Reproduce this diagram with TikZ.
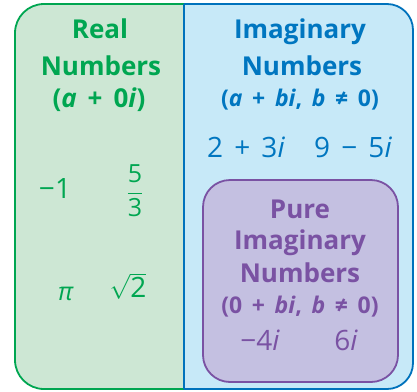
\documentclass[tikz,border=0pt]{standalone}
\usepackage{fontspec}
\setmainfont{Open Sans}
\definecolor{greenline}{RGB}{0,166,81}
\definecolor{greenfill}{RGB}{205,231,212}
\definecolor{blueline}{RGB}{0,114,188}
\definecolor{bluefill}{RGB}{199,233,248}
\definecolor{bluetext}{RGB}{0,118,192}
\definecolor{purplefill}{RGB}{196,192,225}
\definecolor{purpleline}{RGB}{122,82,163}
\newcommand\opsp{\hspace{0.42em}}
\newcommand\numsp{\hspace{0.4em}}
\begin{document}
\begin{tikzpicture}[x=1pt,y=-1pt,
  head/.style={font=\fontsize{26}{26}\selectfont\bfseries, anchor=base, inner sep=0pt},
  subhead/.style={font=\fontsize{23}{23}\selectfont\bfseries, anchor=base, inner sep=0pt},
  num/.style={font=\fontsize{28}{28}\selectfont, anchor=base, inner sep=0pt},
  panel/.style={line width=1.8pt}]
\useasboundingbox (0,0) rectangle (417,391);
% panels
\filldraw[panel, draw=greenline, fill=greenfill, rounded corners=29pt] (184,4) -- (15,4) -- (15,389) -- (184,389);
\filldraw[panel, draw=blueline, fill=bluefill, rounded corners=26pt] (184,4) -- (413,4) -- (413,389) -- (184,389);
\draw[panel, draw=blueline] (184,4) -- (184,389);
\node[draw=purpleline, fill=purplefill, line width=1.8pt, rounded corners=27pt,
      minimum width=195pt, minimum height=202pt, inner sep=0pt] (pure) at (300.5,281) {};
% real numbers
\begin{scope}[text=greenline]
\node[head] (r1) at (100,38) {Real};
\node[head] (r2) at (101,75) {Numbers};
\node[head] (r3) at (99,107) {(\textit{a}\opsp+\opsp0\textit{i})};
\node[num] (rm1) at (55,198) {−1};
\node[inner sep=0pt, font=\fontsize{25}{25}\selectfont] (rfrac) at (135,191) {$\displaystyle\frac{\mbox{5}}{\mbox{3}}$};
\node[num, font=\fontsize{25}{25}\selectfont] (rpi) at (66,300) {\textit{π}};
\node[inner sep=0pt, font=\fontsize{28}{28}\selectfont] (rsqrt) at (128,286) {$\sqrt{\mbox{2}}$};
\end{scope}
% imaginary numbers
\begin{scope}[text=bluetext]
\node[head] (i1) at (300,38) {Imaginary};
\node[head] (i2) at (302,75) {Numbers};
\node[subhead] (i3) at (300,106) {(\textit{a}\opsp+\opsp\textit{bi},\opsp\textit{b}\opsp≠\opsp0)};
\node[num] (ia) at (246,157) {2\numsp+\numsp3\textit{i}};
\node[num] (ib) at (353,157) {9\numsp−\numsp5\textit{i}};
\end{scope}
% pure imaginary
\begin{scope}[text=purpleline]
\node[head] (p1) at (300,218) {Pure};
\node[head] (p2) at (300,249) {Imaginary};
\node[head] (p3) at (300,282) {Numbers};
\node[subhead] (p4) at (300,313) {(0\opsp+\opsp\textit{bi},\opsp\textit{b}\opsp≠\opsp0)};
\node[num] (pa) at (260,350) {−4\textit{i}};
\node[num] (pb) at (346,350) {6\textit{i}};
\end{scope}
\end{tikzpicture}
\end{document}
